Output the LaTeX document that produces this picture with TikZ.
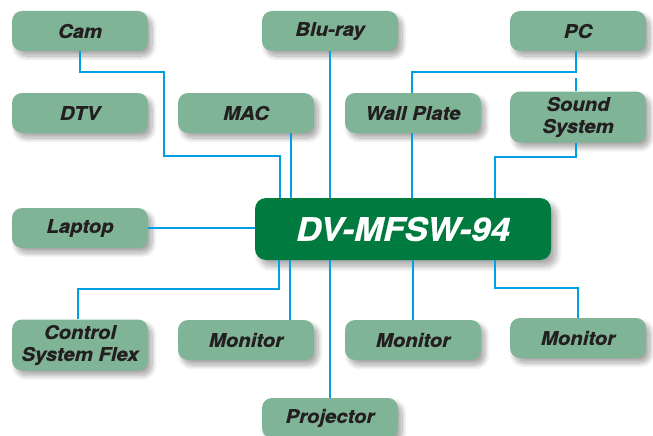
\documentclass[tikz,border=0pt]{standalone}
\usepackage{fontspec}
\newfontfamily\lblfont[FakeStretch=1.08,FakeBold=0.6]{TeX Gyre Heros}
\usetikzlibrary{shadows.blur}
\definecolor{boxgreen}{RGB}{128,180,150}
\definecolor{maingreen}{RGB}{0,122,62}
\definecolor{linkblue}{RGB}{0,160,227}
\definecolor{txt}{RGB}{35,31,32}
\tikzset{
  dev/.style={draw=none, fill=boxgreen, rounded corners=10pt, minimum width=136pt,
    minimum height=40pt, inner sep=0pt, align=center, text=txt,
    font=\lblfont\bfseries\itshape\fontsize{18.8}{22}\selectfont,
    blur shadow={shadow xshift=4pt, shadow yshift=-5pt, shadow opacity=35, shadow blur steps=10, shadow blur radius=5pt}},
  hub/.style={draw=none, fill=maingreen, rounded corners=11pt, minimum width=296pt,
    minimum height=62pt, inner sep=0pt, text=white,
    font=\lblfont\bfseries\itshape\fontsize{32.3}{34}\selectfont,
    blur shadow={shadow xshift=5pt, shadow yshift=-6pt, shadow opacity=35, shadow blur steps=10, shadow blur radius=6pt}},
  conn/.style={draw=linkblue, line width=1.3pt}
}
\begin{document}
\begin{tikzpicture}[x=1pt,y=-1pt]
\useasboundingbox (0,0) rectangle (653,436);
\node[dev] (cam) at (80,31) {Cam};
\node[dev] (bluray) at (330,31) {Blu-ray};
\node[dev] (pc) at (578,31) {PC};
\node[dev] (dtv) at (80,113) {DTV};
\node[dev] (mac) at (246,113) {MAC};
\node[dev] (wall) at (413,113) {Wall Plate};
\node[dev, minimum height=51pt] (sound) at (578,117) {Sound\\System};
\node[dev] (laptop) at (80,228) {Laptop};
\node[dev, minimum height=51pt] (csf) at (80,345) {Control\\System Flex};
\node[dev] (mon1) at (246,340) {Monitor};
\node[dev] (mon2) at (413,340) {Monitor};
\node[dev] (mon3) at (578,338) {Monitor};
\node[dev] (proj) at (330,418) {Projector};
\node[hub] (main) at (403,229) {DV-MFSW-94};
\coordinate (pcstub) at (576,78);
% connectors
\draw[conn] (cam.south) |- (164,72) |- (280,156) -- (280,0 |- main.north);
\draw[conn] (291,0 |- mac.south) -- (291,0 |- main.north);
\draw[conn] (bluray.south) -- (330,0 |- main.north);
\draw[conn] (576,0 |- pc.south) |- (412,72) -- (412,0 |- wall.north);
\draw[conn] (pcstub) -- (576,0 |- sound.north);
\draw[conn] (412,0 |- wall.south) -- (412,0 |- main.north);
\draw[conn] (576,0 |- sound.south) |- (495,157) -- (495,0 |- main.north);
\draw[conn] (laptop.east) -- (main.west |- laptop.east);
\draw[conn] (279,0 |- main.south) |- (78,289) -- (78,0 |- csf.north);
\draw[conn] (290,0 |- main.south) -- (290,0 |- mon1.north);
\draw[conn] (330,0 |- main.south) -- (proj.north);
\draw[conn] (413,0 |- main.south) -- (mon2.north);
\draw[conn] (495,0 |- main.south) |- (578,288) -- (mon3.north);
\end{tikzpicture}
\end{document}
